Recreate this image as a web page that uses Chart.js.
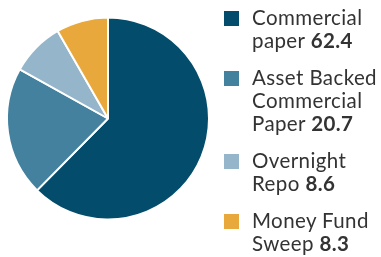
<!DOCTYPE html>
<html lang="en">
<head>
  <meta charset="UTF-8">
  <title>Money market holdings</title>
  <style>
    body {
      margin: 0;
      background: #fff;
      font-family: Lato, "Open Sans", sans-serif;
    }
    .wrap {
      position: relative;
      width: 381px;
      height: 257px;
    }
    #legend {
      position: absolute;
      left: 224px;
      top: 6px;
      display: flex;
      flex-direction: column;
      gap: 14px;
      color: #333;
      font-size: 20.5px;
      letter-spacing: 0.4px;
      line-height: 23px;
    }
    .item {
      display: flex;
      align-items: flex-start;
      gap: 13px;
    }
    .box {
      width: 15px;
      height: 15px;
      margin-top: 5px;
      flex: none;
    }
    .item b { font-weight: 700; }
  </style>
</head>
<body>
  <div class="wrap">
    <canvas id="pie-chart" width="381" height="257"></canvas>
    <div id="legend"></div>
  </div>
  <script src="https://cdn.jsdelivr.net/npm/chart.js@4.4.9/dist/chart.umd.min.js"></script>
  <script>
    const categories = [
      ['Commercial', 'paper'],
      ['Asset Backed', 'Commercial', 'Paper'],
      ['Overnight', 'Repo'],
      ['Money Fund', 'Sweep']
    ]
    const values = [62.4, 20.7, 8.6, 8.3]
    const colors = ['#034c6b', '#43819e', '#95b5ca', '#e9a83b']

    const chart = new Chart(document.getElementById('pie-chart'), {
      type: 'pie',
      data: {
        labels: categories.map(c => c.join(' ')),
        datasets: [{
          data: values,
          backgroundColor: colors,
          borderColor: '#fff',
          borderWidth: 2
        }]
      },
      options: {
        responsive: false,
        animation: false,
        layout: {
          padding: { left: 6, top: 16.5, right: 171, bottom: 36.5 }
        },
        plugins: {
          legend: { display: false },
          tooltip: { enabled: false }
        }
      }
    })

    // html legend so the value can be bold on the last line
    const legend = document.getElementById('legend')
    chart.data.labels.forEach((_, i) => {
      const item = document.createElement('div')
      item.className = 'item'
      const box = document.createElement('div')
      box.className = 'box'
      box.style.background = chart.data.datasets[0].backgroundColor[i]
      const text = document.createElement('div')
      const lines = categories[i]
      text.innerHTML = lines.slice(0, -1).map(l => l + '<br>').join('') +
        lines[lines.length - 1] + ' <b>' + values[i].toFixed(1) + '</b>'
      item.appendChild(box)
      item.appendChild(text)
      legend.appendChild(item)
    })
  </script>
</body>
</html>
